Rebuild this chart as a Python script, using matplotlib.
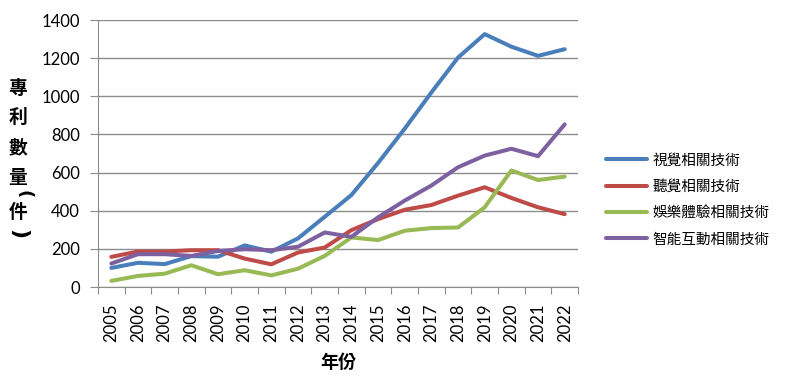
import numpy as np
import matplotlib.pyplot as plt

years = [str(y) for y in range(2005, 2023)]

vision = [100, 127, 120, 162, 159, 218, 185, 255, 368, 482, 650, 830, 1020, 1203, 1326, 1260, 1212, 1247]
hearing = [158, 186, 186, 193, 193, 149, 119, 181, 207, 298, 356, 405, 430, 479, 523, 467, 418, 382]
entertain = [32, 58, 70, 114, 67, 88, 61, 96, 163, 260, 246, 295, 309, 312, 418, 611, 561, 579]
interact = [123, 172, 172, 163, 189, 198, 193, 211, 286, 263, 365, 453, 532, 628, 689, 725, 686, 853]

series_names = ["視覺相關技術", "聽覺相關技術", "娛樂體驗相關技術", "智能互動相關技術"]
colors = ["#4A7EBB", "#BE4B48", "#98B954", "#7D60A0"]

plt.rcParams['font.family'] = ['Noto Sans CJK TC', 'DejaVu Sans']

fig = plt.figure(figsize=(7.87, 3.81), dpi=100)
ax = fig.add_axes([0.1245, 0.2467, 0.6100, 0.7008])

x = np.arange(len(years))
for vals, name, c in zip([vision, hearing, entertain, interact], series_names, colors):
    ax.plot(x, vals, color=c, lw=2.9, label=name, solid_capstyle="round")

ax.set_xlim(-0.5, len(years) - 0.5)
ax.set_ylim(0, 1400)
ax.set_yticks(range(0, 1401, 200))
ax.yaxis.grid(True, color="#8c8c8c", lw=1)
ax.set_axisbelow(True)

# tick marks on category boundaries, labels at category centres
ax.set_xticks(np.arange(-0.5, len(years)), minor=False)
ax.set_xticklabels([])
ax.set_xticks(x, minor=True)
ax.set_xticklabels(years, minor=True, rotation=90, family="Lato", fontsize=12)
ax.tick_params(axis="x", which="minor", length=0, pad=12)
ax.tick_params(axis="x", which="major", length=5, color="#8c8c8c")
ax.tick_params(axis="y", length=6, color="#8c8c8c", labelsize=12, pad=7)
for lab in ax.get_yticklabels():
    lab.set_family("Lato")

for side in ["top", "right"]:
    ax.spines[side].set_visible(False)
for side in ["left", "bottom"]:
    ax.spines[side].set_color("#8c8c8c")

ax.set_xlabel("年份", fontsize=13, fontweight="bold", labelpad=8)

# vertical y label, one glyph per position
ylab_chars = ["專", "利", "數", "量", "件"]
ylab_y = [88, 117, 148, 177, 213]
for ch, yy in zip(ylab_chars, ylab_y):
    fig.text(18 / 787, 1 - yy / 381, ch, ha="center", va="center",
             fontsize=13.5, fontweight="bold")
# brackets turned on their side
fig.text(23 / 787, 1 - 194 / 381, "(", ha="center", va="center", rotation=-90,
         fontsize=13, fontweight="bold", family="DejaVu Sans")
fig.text(18 / 787, 1 - 234 / 381, ")", ha="center", va="center", rotation=-90,
         fontsize=16, fontweight="bold", family="DejaVu Sans")

ax.legend(loc="center left", bbox_to_anchor=(606 / 787, 1 - 200 / 381),
          bbox_transform=fig.transFigure, frameon=False, borderpad=0,
          borderaxespad=0, fontsize=10.5, handlelength=2.8,
          handletextpad=0.4, labelspacing=0.85)

fig.savefig("out.png", dpi=100)
